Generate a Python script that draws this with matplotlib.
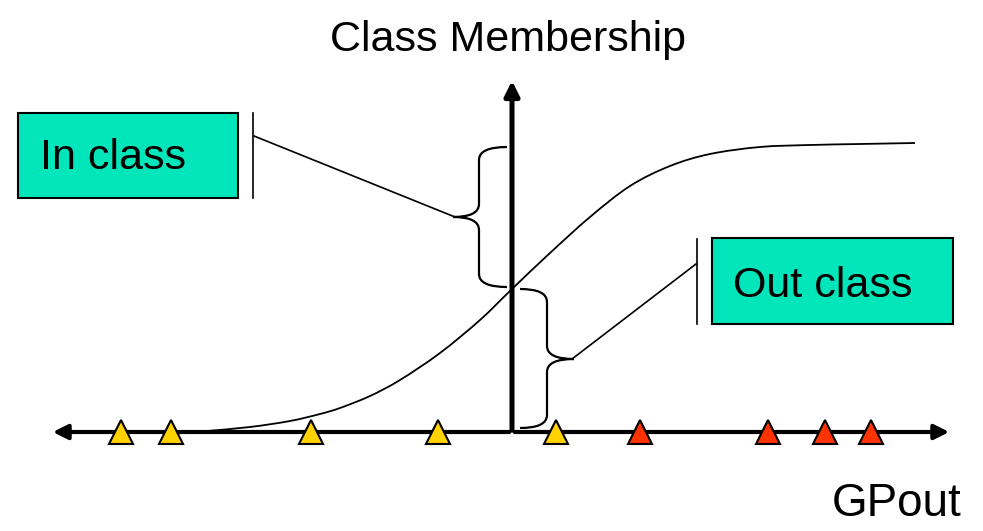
import matplotlib
matplotlib.use("Agg")
import matplotlib.pyplot as plt
from matplotlib.path import Path
from matplotlib.patches import PathPatch, Rectangle

# Data (page coordinates, y measured downwards)
yellow_x = [121, 171, 311, 438, 556]
red_x = [640, 768, 825, 871]
curve_x = [207, 250, 290, 320, 340, 370, 400, 440, 480, 512, 550, 590, 630, 670, 710, 760, 810, 860, 915]
curve_y = [431, 427, 421, 414, 408, 396, 380, 353, 320, 289, 253, 217, 186, 166, 154, 147, 145, 144, 143]
axis_y = 432
axis_x = 512

plt.rcParams['font.family'] = ['Liberation Sans', 'DejaVu Sans']

fig = plt.figure(figsize=(9.83, 5.31), dpi=100)
ax = fig.add_axes([0, 0, 1, 1])
ax.set_xlim(0, 983)
ax.set_ylim(531, 0)
ax.axis('off')


def smooth_path(xs, ys):
    # catmull-rom through the read points, drawn as bezier segments
    pts = list(zip(xs, ys))
    verts = [pts[0]]
    codes = [Path.MOVETO]
    for i in range(len(pts) - 1):
        p0 = pts[i - 1] if i > 0 else pts[i]
        p1 = pts[i]
        p2 = pts[i + 1]
        p3 = pts[i + 2] if i + 2 < len(pts) else pts[i + 1]
        c1 = (p1[0] + (p2[0] - p0[0]) / 6, p1[1] + (p2[1] - p0[1]) / 6)
        c2 = (p2[0] - (p3[0] - p1[0]) / 6, p2[1] - (p3[1] - p1[1]) / 6)
        verts += [c1, c2, p2]
        codes += [Path.CURVE4] * 3
    return Path(verts, codes)


# sigmoid curve
ax.add_patch(PathPatch(smooth_path(curve_x, curve_y), fill=False, ec='black', lw=1.3, zorder=2))

# axes arrows
ax.annotate('', xy=(50, axis_y), xytext=(axis_x, axis_y),
            arrowprops=dict(arrowstyle='-|>', lw=3, color='black', mutation_scale=22), zorder=3)
ax.annotate('', xy=(952, axis_y), xytext=(axis_x, axis_y),
            arrowprops=dict(arrowstyle='-|>', lw=3, color='black', mutation_scale=22), zorder=3)
ax.annotate('', xy=(axis_x, 78), xytext=(axis_x, axis_y + 1),
            arrowprops=dict(arrowstyle='-|>', lw=3.6, color='black', mutation_scale=22), zorder=3)


def brace(x_end, x_mid, x_tip, y_top, y_cusp, y_bot, r=13):
    verts = [(x_end, y_top), (x_mid, y_top), (x_mid, y_top + r),
             (x_mid, y_cusp - r), (x_mid, y_cusp), (x_tip, y_cusp),
             (x_mid, y_cusp), (x_mid, y_cusp + r),
             (x_mid, y_bot - r), (x_mid, y_bot), (x_end, y_bot)]
    codes = [Path.MOVETO, Path.CURVE3, Path.CURVE3,
             Path.LINETO, Path.CURVE3, Path.CURVE3,
             Path.CURVE3, Path.CURVE3,
             Path.LINETO, Path.CURVE3, Path.CURVE3]
    ax.add_patch(PathPatch(Path(verts, codes), fill=False, lw=1.6, ec='black', zorder=2))


brace(507, 479, 453, 147, 217, 287)
brace(520, 547, 574, 289, 359, 428)

# leader lines
ax.plot([253, 253], [113, 198], color='black', lw=1.2)
ax.plot([254, 455], [136, 217], color='black', lw=1.2)
ax.plot([697, 697], [239, 324], color='black', lw=1.2)
ax.plot([696, 572], [264, 359], color='black', lw=1.2)

# boxes
box_col = '#00E5B9'
ax.add_patch(Rectangle((18, 113), 220, 85, fc=box_col, ec='black', lw=1.5, zorder=2))
ax.add_patch(Rectangle((712, 238), 241, 86, fc=box_col, ec='black', lw=1.5, zorder=2))
ax.text(40, 158, 'In class', fontsize=31, ha='left', va='center', zorder=4)
ax.text(733, 286, 'Out class', fontsize=31, ha='left', va='center', zorder=4)

# triangles
ax.plot(yellow_x, [axis_y] * len(yellow_x), ls='none', marker='^', ms=17,
        mfc='#FFD200', mec='black', mew=1.5, zorder=5)
ax.plot(red_x, [axis_y] * len(red_x), ls='none', marker='^', ms=17,
        mfc='#FF3300', mec='black', mew=1.5, zorder=5)

# labels
ax.text(508, 40, 'Class Membership', fontsize=31, ha='center', va='center')
ax.text(897, 504, 'GPout', fontsize=33, ha='center', va='center')

fig.savefig('out.png', dpi=100)
